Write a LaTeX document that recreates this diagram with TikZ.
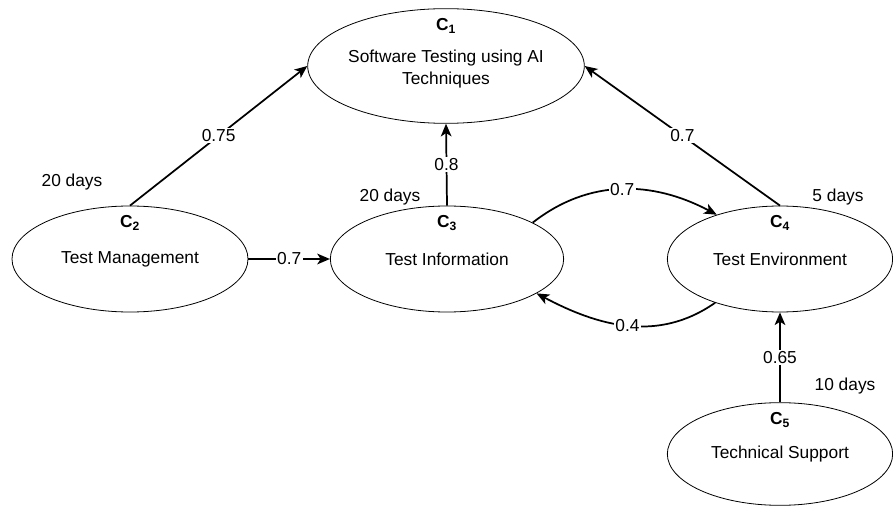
\documentclass[tikz,border=0pt]{standalone}
\usepackage{fontspec}
\setmainfont{Liberation Sans}
\usetikzlibrary{shapes.geometric,arrows.meta,positioning}

\tikzset{
  concept/.style={draw, ellipse, inner sep=0pt, line width=0.6pt, align=center,
    minimum width=#1},
  clab/.style={font=\fontsize{13}{16}\selectfont\bfseries},
  wlab/.style={fill=white, inner sep=1pt},
  days/.style={inner sep=0pt},
  link/.style={line width=1.3pt, -{Stealth[length=9.5pt,width=8pt,inset=2.5pt]}},
}

\begin{document}
\begin{tikzpicture}[x=0.75pt, y=-0.75pt, font=\fontsize{13}{16}\selectfont]
            \useasboundingbox (0,0) rectangle (893,506);
            % the five concepts
            \node[concept=190pt, minimum height=86pt] (c1) at (446,66) {\\[-2pt]Software Testing using AI\\Techniques};
            \node[concept=177pt, minimum height=79.5pt] (c2) at (130,259) {Test Management};
            \node[concept=175pt, minimum height=79.5pt] (c3) at (447,259) {Test Information};
            \node[concept=169pt, minimum height=79.5pt] (c4) at (780,259) {Test Environment};
            \node[concept=169pt, minimum height=77pt] (c5) at (780,454) {Technical Support};
            \foreach \c in {1,...,5} % edit here for the C labels
            \node[clab] (l\c) at ([yshift=-13pt]c\c.north) {C\textsubscript{\c}};
            % durations
            \node[days] (d2) at (72,182) {20 days};
            \node[days] (d3) at (390,197) {20 days};
            \node[days] (d4) at (838,197) {5 days};
            \node[days] (d5) at (845,386) {10 days};
            % weighted links
            \draw[link] (c2.north) -- node[wlab] {0.75} (c1.west);
            \draw[link] (c3.north) -- node[wlab] {0.8} (c1.south);
            \draw[link] (c4.north) -- node[wlab] {0.7} (c1.east);
            \draw[link] (c2.east) -- node[wlab] {0.7} (c3.west);
            \draw[link] (c3.23) to[out=38, in=152] node[wlab] {0.7} (c4.145);
            \draw[link] (c4.214) to[out=215, in=-28] node[wlab] {0.4} (c3.339);
            \draw[link] (c5.north) -- node[wlab] {0.65} (c4.south);
\end{tikzpicture}
\end{document}
